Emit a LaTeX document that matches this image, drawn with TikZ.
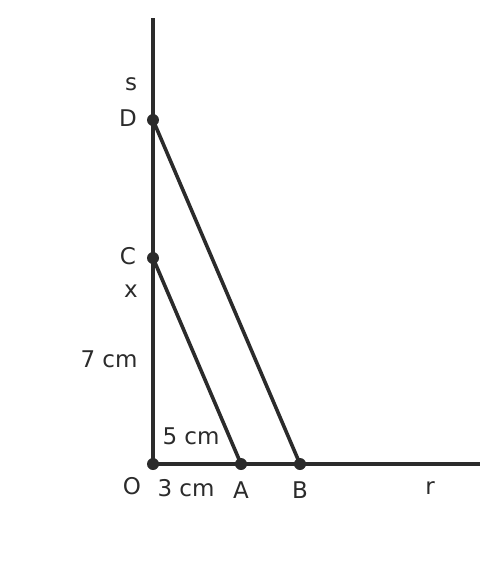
\documentclass[tikz,border=0pt]{standalone}
\usepackage{fontspec}
\setmainfont{DejaVu Sans}
\usepackage{tikz}
\definecolor{ink}{HTML}{2B2B2B}

\begin{document}
\begin{tikzpicture}[x=1pt,y=-1pt,
  line/.style={draw=ink, line width=3.6pt},
  pt/.style={circle, fill=ink, inner sep=0pt, minimum size=12pt},
  lab/.style={text=ink, font=\fontsize{23}{27}\selectfont, inner sep=0pt}]
\useasboundingbox (0,0) rectangle (498,576);
% points
\node[pt] (O) at (153,464){};
\node[pt] (A) at (241,464){};
\node[pt] (B) at (300,464){};
\node[pt] (C) at (153,258){};
\node[pt] (D) at (153,120){};
\coordinate (top) at (153,18);
\coordinate (right) at (480,464);
% axes
\draw[line] (O.center) -- (top);
\draw[line] (O.center) -- (right);
% segments
\draw[line] (C.center) -- (A.center);
\draw[line] (D.center) -- (B.center);
% labels
\node[lab] (ls) at (131,84){s};
\node[lab] (lD) at (128,118){D};
\node[lab] (lC) at (128,256){C};
\node[lab] (lx) at (131,291){x};
\node[lab] (l7) at (109,359){7 cm};
\node[lab] (l5) at (191,436){5 cm};
\node[lab] (lO) at (132,486){O};
\node[lab] (l3) at (186,488){3 cm};
\node[lab] (lA) at (241,490){A};
\node[lab] (lB) at (300,490){B};
\node[lab] (lr) at (430,488){r};
\end{tikzpicture}
\end{document}
